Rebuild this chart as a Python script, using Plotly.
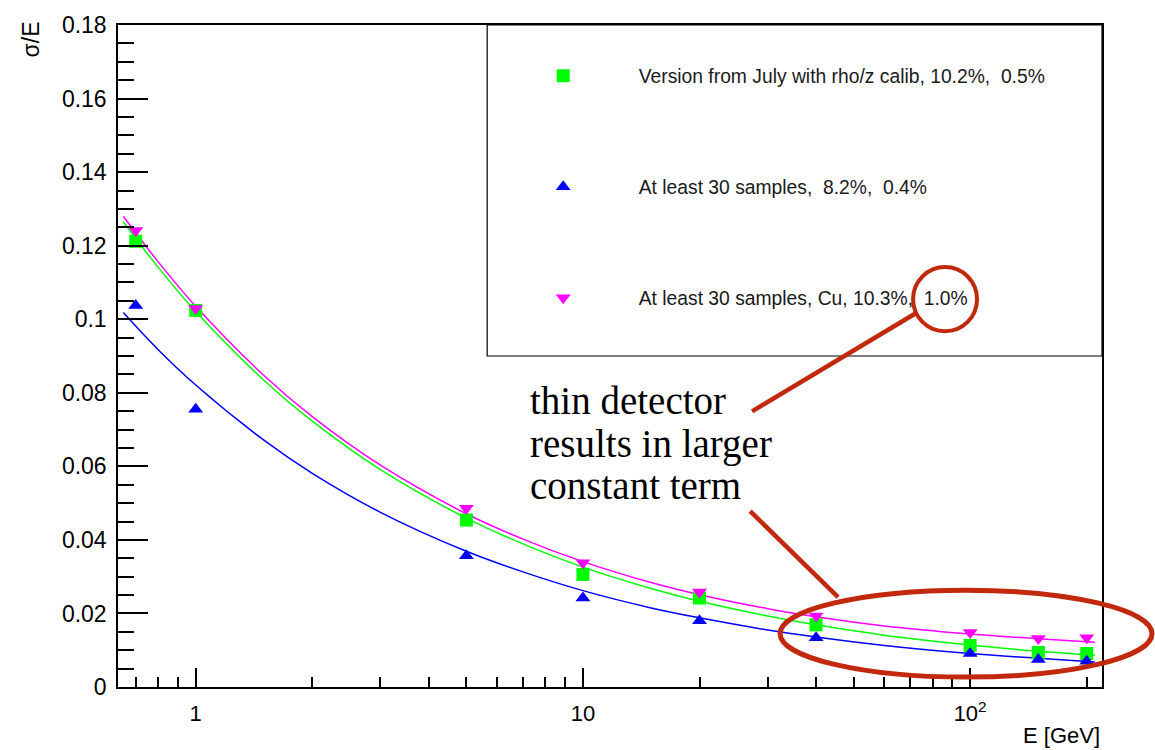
import plotly.graph_objects as go

# ---------------- data ----------------
energy = [0.7, 1, 5, 10, 20, 40, 100, 150, 200]

july_vals = [0.1212, 0.1024, 0.0454, 0.0306, 0.0242, 0.0169, 0.0113, 0.0094, 0.0091]
s30_vals = [0.1037, 0.0755, 0.0357, 0.0242, 0.0180, 0.0134, 0.0091, 0.0075, 0.0070]
cu_vals = [0.1241, 0.1029, 0.0486, 0.0338, 0.0258, 0.0193, 0.0148, 0.0132, 0.0134]

# fit curves
curve_e = [0.65, 0.8, 1, 1.5, 2, 3, 5, 7, 10, 15, 20, 30, 40, 60, 100, 150, 210]
july_fit = [0.1265, 0.1141, 0.1021, 0.0834, 0.0723, 0.0591, 0.0459, 0.0389, 0.0326,
            0.0268, 0.0233, 0.0193, 0.0169, 0.0141, 0.0114, 0.0097, 0.0086]
s30_fit = [0.1018, 0.0917, 0.0821, 0.0671, 0.0581, 0.0475, 0.0369, 0.0313, 0.0262,
           0.0215, 0.0188, 0.0155, 0.0136, 0.0113, 0.0091, 0.0078, 0.0068]
cu_fit = [0.1280, 0.1156, 0.1035, 0.0847, 0.0735, 0.0603, 0.0471, 0.0402, 0.0341,
          0.0284, 0.0251, 0.0213, 0.0191, 0.0166, 0.0144, 0.0131, 0.0122]

labels = [
    "Version from July with rho/z calib, 10.2%,\u00a0 0.5%",
    "At least 30 samples,\u00a0 8.2%,\u00a0 0.4%",
    "At least 30 samples, Cu, 10.3%,\u00a0 1.0%",
]

x_tickvals = [1, 10, 100]
x_ticktext = ["1", "10", "10<sup>2</sup>"]
x_minor = [0.7, 0.8, 0.9, 2, 3, 4, 5, 6, 7, 8, 9, 20, 30, 40, 50, 60, 70, 80, 90, 200]

GREEN = "#00FF00"
BLUE = "#0000FF"
MAGENTA = "#FF00FF"
RED = "#C1280C"
FONT = "Liberation Sans, Arial, Helvetica, sans-serif"

fig = go.Figure()

for ys, col in [(july_fit, GREEN), (s30_fit, BLUE), (cu_fit, MAGENTA)]:
    fig.add_trace(go.Scatter(x=curve_e, y=ys, mode="lines",
                             line=dict(color=col, width=1.5, shape="spline"),
                             showlegend=False, hoverinfo="skip"))

for ys, col, sym, sz, name, grp in [
    (july_vals, GREEN, "square", 13, labels[0], "g1"),
    (s30_vals, BLUE, "triangle-up", 13, labels[1], "g2"),
    (cu_vals, MAGENTA, "triangle-down", 13, labels[2], "g3"),
]:
    fig.add_trace(go.Scatter(x=energy, y=ys, mode="markers", name=name, legendgroup=grp,
                             marker=dict(symbol=sym, size=sz, color=col, line=dict(width=0))))

def px_x(p):
    return (p - 117.7) / 984.3

def px_y(p):
    return (687 - p) / 670

shapes = [
    # legend frame
    dict(type="rect", xref="paper", yref="paper", x0=px_x(487), x1=1.0, y0=px_y(352), y1=1.0,
         line=dict(color="black", width=1.2), layer="above"),
    # red ellipse
    dict(type="circle", xref="paper", yref="paper", x0=px_x(780), x1=px_x(1152),
         y0=px_y(677), y1=px_y(589), line=dict(color=RED, width=5), layer="above"),
    # red circle around 1.0%
    dict(type="circle", xref="paper", yref="paper", x0=px_x(913), x1=px_x(977),
         y0=px_y(327), y1=px_y(262), line=dict(color=RED, width=4), layer="above"),
    dict(type="line", xref="paper", yref="paper", x0=px_x(752), y0=px_y(408),
         x1=px_x(917), y1=px_y(308), line=dict(color=RED, width=4.5), layer="above"),
    dict(type="line", xref="paper", yref="paper", x0=px_x(750), y0=px_y(509),
         x1=px_x(838), y1=px_y(596), line=dict(color=RED, width=4.5), layer="above"),
]

annotations = [
    dict(text="σ/E", xref="paper", yref="paper", x=px_x(31), y=px_y(11), xanchor="center",
         yanchor="top", textangle=-90, showarrow=False, font=dict(family=FONT, size=23, color="black")),
    dict(text="E [GeV]", xref="paper", yref="paper", x=1.0, y=px_y(736), xanchor="right",
         yanchor="middle", showarrow=False, font=dict(family=FONT, size=22, color="black")),
]
for txt, yc in [("thin detector", 397), ("results in larger", 441), ("constant term", 483)]:
    annotations.append(dict(text=txt, xref="paper", yref="paper", x=px_x(528), y=px_y(yc),
                            xanchor="left", yanchor="middle", showarrow=False,
                            font=dict(family="Liberation Serif, Times New Roman, serif", size=39,
                                      color="black")))

fig.update_layout(
    width=1155, height=750,
    margin=dict(l=118, r=53, t=17, b=63),
    paper_bgcolor="white", plot_bgcolor="white",
    font=dict(family=FONT, size=22, color="black"),
    xaxis=dict(type="log", range=[-0.2007, 2.3405],
               tickmode="array", tickvals=x_tickvals, ticktext=x_ticktext,
               ticks="inside", ticklen=19, tickwidth=1.5, tickcolor="black",
               minor=dict(tickmode="array", tickvals=x_minor, ticks="inside", ticklen=10,
                          tickwidth=1.5, tickcolor="black", showgrid=False),
               showgrid=False, zeroline=False, showline=True, linecolor="black",
               linewidth=1.5, mirror=True, tickfont=dict(size=22), ticklabelstandoff=6),
    yaxis=dict(range=[0, 0.18], dtick=0.02, tick0=0,
               ticks="inside", ticklen=30, tickwidth=1.5, tickcolor="black",
               minor=dict(dtick=0.005, ticks="inside", ticklen=16, tickwidth=1.5,
                          tickcolor="black", showgrid=False),
               showgrid=False, zeroline=False, showline=True, linecolor="black",
               linewidth=1.5, mirror=True, tickfont=dict(size=23), ticklabelstandoff=5),
    legend=dict(x=px_x(487.5), y=px_y(49), xanchor="left", yanchor="top",
                bgcolor="rgba(0,0,0,0)", borderwidth=0,
                font=dict(family=FONT, size=19.3, color="#1a1a1a"),
                itemwidth=141, traceorder="grouped", tracegroupgap=83),
    shapes=shapes,
    annotations=annotations,
)

fig.write_html("out.html")
